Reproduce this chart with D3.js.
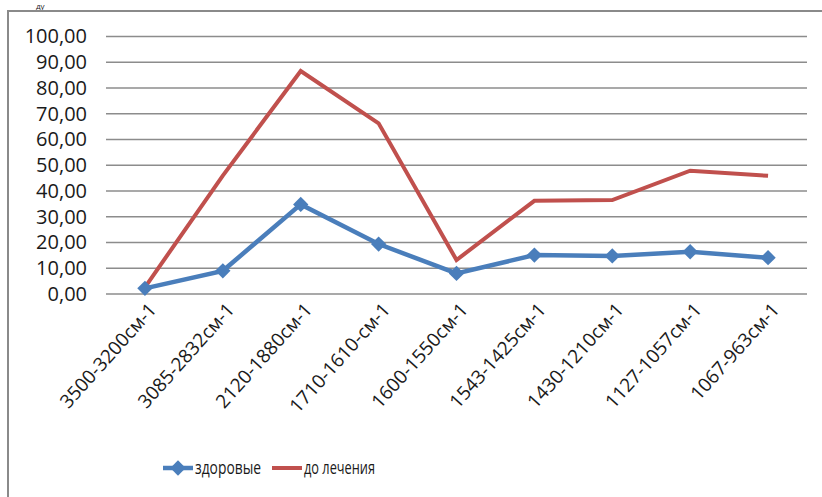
<!DOCTYPE html>
<html>
<head>
<meta charset="utf-8">
<script src="https://cdnjs.cloudflare.com/ajax/libs/d3/7.8.5/d3.min.js"></script>
<style>
  body { margin: 0; background: #fff; }
  svg { display: block; font-family: "Open Sans", sans-serif; }
</style>
</head>
<body>
<svg id="chart" width="822" height="497"></svg>
<script>
// Data
var categories = ["3500-3200см-1", "3085-2832см-1", "2120-1880см-1", "1710-1610-см-1",
    "1600-1550см-1", "1543-1425см-1", "1430-1210см-1", "1127-1057см-1", "1067-963см-1"];
var healthy = [2.2, 9.0, 34.8, 19.4, 8.0, 15.1, 14.8, 16.4, 14.1];
var beforeTreatment = [2.6, 46.0, 86.6, 66.3, 13.2, 36.2, 36.5, 47.9, 45.9];
var yTicks = [0, 10, 20, 30, 40, 50, 60, 70, 80, 90, 100];
var seriesNames = ["здоровые", "до лечения"];

// Set dimensions
var width = 822,
    height = 497,
    margin = { top: 36.5, right: 15, bottom: 203, left: 106 };

var svg = d3.select("#chart");

// caption fragment above the frame
svg.append("text")
    .attr("x", 36)
    .attr("y", 9)
    .style("font-size", "8px")
    .style("fill", "#222")
    .text("ду");

// Frame
svg.append("path")
    .attr("d", "M8,497V11H822")
    .attr("fill", "none")
    .attr("stroke", "#8a8a8a")
    .attr("stroke-width", 2);

// Scales
var x = d3.scaleBand()
    .domain(categories)
    .range([margin.left, width - margin.right]);

var y = d3.scaleLinear()
    .domain([0, 100])
    .range([height - margin.bottom, margin.top]);

// Gridlines
svg.append("g")
    .selectAll("line")
    .data(yTicks)
    .enter()
    .append("line")
    .attr("x1", margin.left)
    .attr("x2", width - margin.right)
    .attr("y1", function(d) { return y(d); })
    .attr("y2", function(d) { return y(d); })
    .attr("stroke", "#8c8c8c")
    .attr("stroke-width", 1.3);

// Y axis labels
var yAxis = d3.axisLeft(y)
    .tickValues(yTicks)
    .tickSize(0)
    .tickPadding(19)
    .tickFormat(function(d) { return d3.format(".2f")(d).replace(".", ","); });

var gy = svg.append("g")
    .attr("transform", "translate(" + margin.left + ",0)")
    .call(yAxis);
gy.select(".domain").remove();
gy.selectAll("text")
    .style("font-family", "Open Sans, sans-serif")
    .style("font-size", "20px")
    .style("fill", "#1a1a1a");

// X axis labels
var xAxis = d3.axisBottom(x).tickSize(0);
var gx = svg.append("g")
    .attr("transform", "translate(0," + y(0) + ")")
    .call(xAxis);
gx.select(".domain").remove();
gx.selectAll("text")
    .style("font-family", "Open Sans, sans-serif")
    .style("font-size", "19px")
    .style("fill", "#1a1a1a")
    .style("text-anchor", "end")
    .attr("y", 0)
    .attr("dy", "0.75em")
    .attr("transform", "translate(2,7) rotate(-48)");

// Lines
var line = d3.line()
    .x(function(d, i) { return x(categories[i]) + x.bandwidth() / 2; })
    .y(function(d) { return y(d); });

svg.append("path")
    .datum(beforeTreatment)
    .attr("d", line)
    .attr("fill", "none")
    .attr("stroke", "#C0504D")
    .attr("stroke-width", 4);

svg.append("path")
    .datum(healthy)
    .attr("d", line)
    .attr("fill", "none")
    .attr("stroke", "#4A7EBB")
    .attr("stroke-width", 4.5);

var diamond = d3.symbol().type(d3.symbolDiamond2).size(150);

svg.append("g")
    .selectAll("path")
    .data(healthy)
    .enter()
    .append("path")
    .attr("d", diamond)
    .attr("transform", function(d, i) {
        return "translate(" + (x(categories[i]) + x.bandwidth() / 2) + "," + y(d) + ")";
    })
    .attr("fill", "#4A7EBB");

// Legend
var legend = svg.append("g").attr("transform", "translate(0,468)");

legend.append("line")
    .attr("x1", 163).attr("x2", 193)
    .attr("stroke", "#4A7EBB").attr("stroke-width", 4.5);
legend.append("path")
    .attr("d", diamond)
    .attr("transform", "translate(178,0)")
    .attr("fill", "#4A7EBB");
legend.append("text")
    .attr("x", 195).attr("dy", "0.35em")
    .attr("textLength", 66).attr("lengthAdjust", "spacingAndGlyphs")
    .style("font-size", "18px").style("fill", "#1a1a1a")
    .text(seriesNames[0]);

legend.append("line")
    .attr("x1", 272).attr("x2", 302)
    .attr("stroke", "#C0504D").attr("stroke-width", 4);
legend.append("text")
    .attr("x", 304).attr("dy", "0.35em")
    .attr("textLength", 71).attr("lengthAdjust", "spacingAndGlyphs")
    .style("font-size", "18px").style("fill", "#1a1a1a")
    .text(seriesNames[1]);
</script>
</body>
</html>
